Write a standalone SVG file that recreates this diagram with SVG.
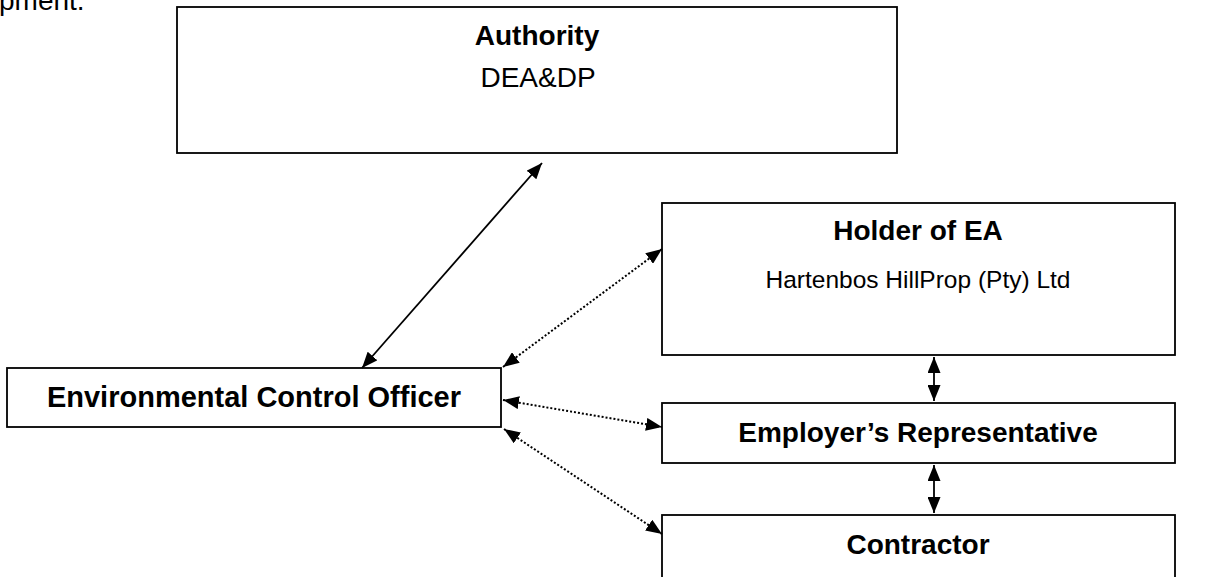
<svg xmlns="http://www.w3.org/2000/svg" width="1217" height="577" viewBox="0 0 1217 577">
<defs>
<style>
.box{fill:#fff;stroke:#000;stroke-width:1.8}
.t{font-family:"Liberation Sans",Arial,sans-serif;font-size:28px;fill:#000;text-anchor:middle}
.b{font-weight:bold}
.solid{stroke:#000;stroke-width:1.8;fill:none}
.dot{stroke:#000;stroke-width:2;stroke-dasharray:2 2;fill:none}
</style>
<marker id="ah" markerUnits="userSpaceOnUse" markerWidth="16" markerHeight="13" refX="16" refY="6.5" orient="auto-start-reverse" viewBox="0 0 16 13">
<path d="M0,0 L16,6.5 L0,13 z" fill="#000"/>
</marker>
</defs>
<rect width="1217" height="577" fill="#fff"/>
<text class="t" x="-1" y="10" style="text-anchor:start">pment.</text>
<g id="authority">
<rect class="box" x="177" y="7" width="720" height="146"/>
<text class="t b" x="537" y="45">Authority</text>
<text class="t" x="538" y="87">DEA&amp;DP</text>
</g>
<g id="holder">
<rect class="box" x="662" y="203" width="513" height="152"/>
<text class="t b" x="918" y="240">Holder of EA</text>
<text class="t" x="918" y="288" style="font-size:24.5px">Hartenbos HillProp (Pty) Ltd</text>
</g>
<g id="eco">
<rect class="box" x="7" y="368" width="494" height="59"/>
<text class="t b" x="254" y="407" style="font-size:29px">Environmental Control Officer</text>
</g>
<g id="er">
<rect class="box" x="662" y="403" width="513" height="60"/>
<text class="t b" x="918" y="442">Employer’s Representative</text>
</g>
<g id="contractor">
<rect class="box" x="662" y="515" width="513" height="80"/>
<text class="t b" x="918" y="554">Contractor</text>
</g>
<g id="connectors">
<line class="solid" x1="362" y1="368" x2="542" y2="163" marker-start="url(#ah)" marker-end="url(#ah)"/>
<line class="dot" x1="503" y1="367" x2="662" y2="249" marker-start="url(#ah)" marker-end="url(#ah)"/>
<line class="dot" x1="503" y1="400" x2="662" y2="427" marker-start="url(#ah)" marker-end="url(#ah)"/>
<line class="dot" x1="504" y1="429" x2="662" y2="534" marker-start="url(#ah)" marker-end="url(#ah)"/>
<line class="solid" x1="934" y1="357" x2="934" y2="401" marker-start="url(#ah)" marker-end="url(#ah)"/>
<line class="solid" x1="934" y1="465" x2="934" y2="513" marker-start="url(#ah)" marker-end="url(#ah)"/>
</g>
</svg>
